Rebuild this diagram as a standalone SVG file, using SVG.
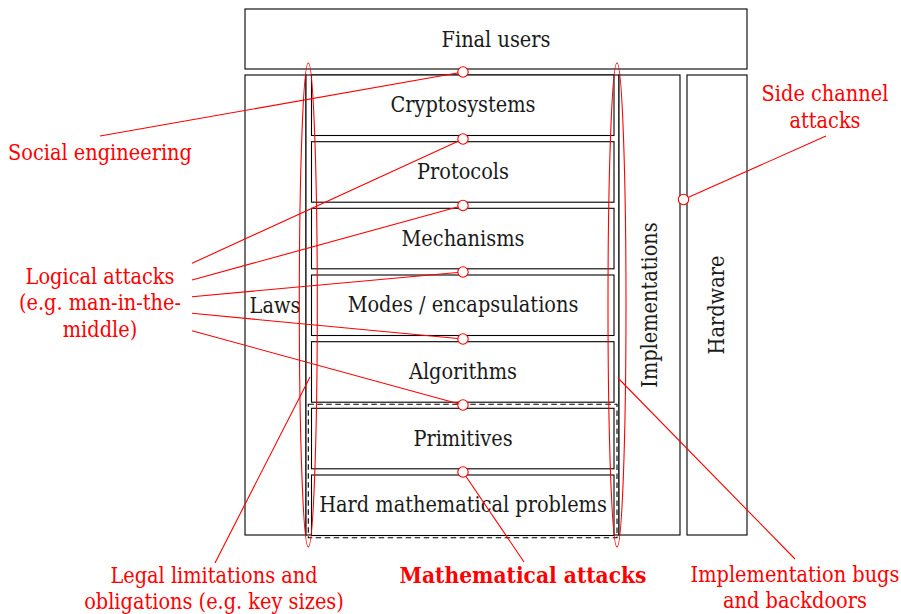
<svg xmlns="http://www.w3.org/2000/svg" width="901" height="614" viewBox="0 0 901 614">
<style>
.box{fill:#fff;stroke:#000;stroke-width:1.1}
.t,.r{font-family:'DejaVu Serif Condensed','DejaVu Serif',serif;font-stretch:condensed;font-size:21.5px;text-anchor:middle}
.t{fill:#1a1a1a}
.r{fill:#ff0000}
.b{font-weight:bold;font-size:22.5px}
.con{stroke:#ff0000;stroke-width:1.1;fill:none}
.ell{stroke:#ff0000;stroke-width:1.1;fill:none}
.dot{stroke:#ff0000;stroke-width:1.1;fill:#fff}
.dash{fill:none;stroke:#000;stroke-width:1.1;stroke-dasharray:5.5,3.5}
</style>
<rect width="901" height="614" fill="#fff"/>

<g id="final-users">
<rect class="box" x="245" y="9" width="502" height="60"/>
<text class="t" x="496" y="47">Final users</text>
</g>

<g id="laws">
<rect class="box" x="245" y="75" width="61" height="460"/>
<text class="t" x="275" y="313">Laws</text>
</g>

<g id="stack-frame">
<rect class="box" x="306" y="75" width="313" height="460"/>
</g>

<g id="implementations">
<rect class="box" x="619" y="75" width="61" height="460"/>
<text class="t" transform="translate(657,305) rotate(-90)">Implementations</text>
</g>

<g id="hardware">
<rect class="box" x="687" y="75" width="60" height="460"/>
<text class="t" transform="translate(724,305) rotate(-90)">Hardware</text>
</g>

<g id="cryptosystems">
<rect class="box" x="311.5" y="75" width="302.5" height="60.5"/>
<text class="t" x="463" y="112">Cryptosystems</text>
</g>
<g id="protocols">
<rect class="box" x="311.5" y="141.7" width="302.5" height="60.5"/>
<text class="t" x="463" y="179">Protocols</text>
</g>
<g id="mechanisms">
<rect class="box" x="311.5" y="208.3" width="302.5" height="60.5"/>
<text class="t" x="463" y="245.5">Mechanisms</text>
</g>
<g id="modes">
<rect class="box" x="311.5" y="275" width="302.5" height="60.5"/>
<text class="t" x="463" y="312">Modes / encapsulations</text>
</g>
<g id="algorithms">
<rect class="box" x="311.5" y="341.7" width="302.5" height="60.5"/>
<text class="t" x="463" y="379">Algorithms</text>
</g>
<g id="primitives">
<rect class="box" x="311.5" y="408.3" width="302.5" height="60.5"/>
<text class="t" x="463" y="445.5">Primitives</text>
</g>
<g id="hard-problems">
<rect class="box" x="311.5" y="475" width="302.5" height="60.5"/>
<text class="t" x="463" y="512">Hard mathematical problems</text>
</g>

<g id="primitives-frame">
<rect class="dash" x="308.3" y="404.3" width="308.7" height="133.5"/>
</g>

<g id="scopes">
<ellipse class="ell" cx="308.3" cy="305" rx="9" ry="242"/>
<ellipse class="ell" cx="617" cy="305" rx="9" ry="242"/>
</g>

<g id="connectors">
<line class="con" x1="100" y1="136" x2="463" y2="72"/>
<line class="con" x1="192" y1="263.3" x2="463" y2="139"/>
<line class="con" x1="192" y1="280" x2="463" y2="205.5"/>
<line class="con" x1="192" y1="296.7" x2="463" y2="272"/>
<line class="con" x1="192" y1="313.3" x2="463" y2="339"/>
<line class="con" x1="192" y1="330.7" x2="463" y2="405"/>
<line class="con" x1="826" y1="136" x2="683.5" y2="199.5"/>
<line class="con" x1="215" y1="563" x2="310" y2="377"/>
<line class="con" x1="524" y1="562" x2="463" y2="472"/>
<line class="con" x1="795" y1="559" x2="618" y2="378"/>
</g>

<g id="attack-points">
<circle class="dot" cx="463" cy="72" r="5.2"/>
<circle class="dot" cx="463" cy="139" r="5.2"/>
<circle class="dot" cx="463" cy="205.5" r="5.2"/>
<circle class="dot" cx="463" cy="272" r="5.2"/>
<circle class="dot" cx="463" cy="339" r="5.2"/>
<circle class="dot" cx="463" cy="405" r="5.2"/>
<circle class="dot" cx="463" cy="472" r="5.2"/>
<circle class="dot" cx="683.5" cy="199.5" r="5.2"/>
</g>

<g id="social-engineering">
<text class="r" x="100" y="160">Social engineering</text>
</g>
<g id="logical-attacks">
<text class="r" x="100" y="283.5">Logical attacks</text>
<text class="r" x="100" y="310">(e.g. man-in-the-</text>
<text class="r" x="100" y="336.5">middle)</text>
</g>
<g id="side-channel">
<text class="r" x="825" y="101">Side channel</text>
<text class="r" x="825" y="127.5">attacks</text>
</g>
<g id="legal">
<text class="r" x="214" y="583">Legal limitations and</text>
<text class="r" x="214" y="609">obligations (e.g. key sizes)</text>
</g>
<g id="mathematical">
<text class="r b" x="523" y="583">Mathematical attacks</text>
</g>
<g id="implementation-bugs">
<text class="r" x="795" y="582">Implementation bugs</text>
<text class="r" x="795" y="608">and backdoors</text>
</g>
</svg>
